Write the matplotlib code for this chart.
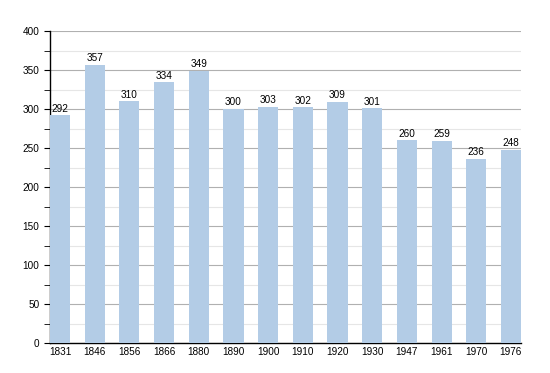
import matplotlib
matplotlib.use('Agg')
import matplotlib.pyplot as plt
from matplotlib.ticker import MultipleLocator

years = ['1831', '1846', '1856', '1866', '1880', '1890', '1900',
         '1910', '1920', '1930', '1947', '1961', '1970', '1976']
population = [292, 357, 310, 334, 349, 300, 303, 302, 309, 301, 260, 259, 236, 248]

bar_color = '#b3cce6'
plt.rcParams['font.family'] = ['Liberation Sans', 'DejaVu Sans']

fig = plt.figure(figsize=(5.5, 3.73), dpi=100)
ax = fig.add_axes([50/550, 30/373, 471/550, 312/373])

x = range(len(years))
ax.bar(x, population, width=0.58, color=bar_color, zorder=3)

for i, v in zip(x, population):
    ax.text(i, v + 2, str(v), ha='center', va='bottom', fontsize=7.2, zorder=4)

ax.set_xlim(-0.29, len(years) - 1 + 0.29)
ax.set_ylim(0, 400)
ax.set_xticks(list(x))
ax.set_xticklabels(years, fontsize=7.2)
ax.yaxis.set_major_locator(MultipleLocator(50))
ax.yaxis.set_minor_locator(MultipleLocator(25))
ax.tick_params(axis='y', labelsize=7.2, length=4, which='both', direction='out')
ax.tick_params(axis='x', length=0, pad=3)

# rejilla: mayor gris, menor muy clara
ax.grid(True, axis='y', which='major', color='#b0b0b0', linewidth=0.8, zorder=1)
ax.grid(True, axis='y', which='minor', color='#e6e6e6', linewidth=0.8, zorder=1)

ax.spines['top'].set_visible(False)
ax.spines['right'].set_visible(False)
ax.spines['left'].set_linewidth(1)
ax.spines['bottom'].set_linewidth(1)

plt.savefig('out.png', dpi=100)
